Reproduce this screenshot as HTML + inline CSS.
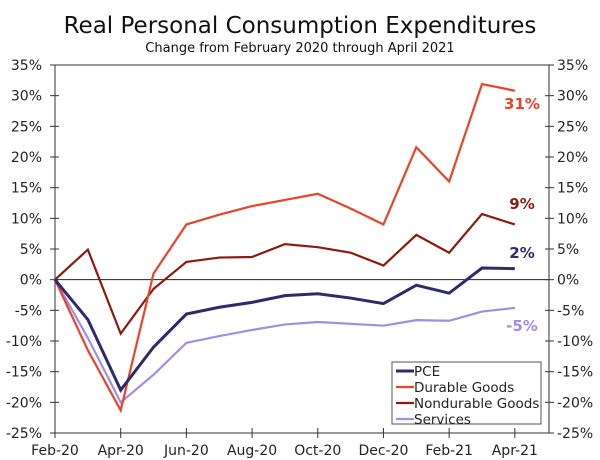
<!DOCTYPE html>
<html><head><meta charset="utf-8"><style>
body{margin:0;background:#fff;}
svg{display:block;font-family:"DejaVu Sans","Liberation Sans",sans-serif;}
</style></head><body>
<svg id="chart" width="600" height="460">
<text x="300" y="33" text-anchor="middle" font-size="23" fill="#111">Real Personal Consumption Expenditures</text>
<text x="300" y="52" text-anchor="middle" font-size="13" fill="#111">Change from February 2020 through April 2021</text>
<g id="axes"></g>
<g id="series"></g>
<g id="legend">
<rect x="392" y="362" width="149" height="62" fill="#fff" stroke="#555" stroke-width="1"/>
</g>
</svg>
<script>
const categories=["Feb-20","Mar-20","Apr-20","May-20","Jun-20","Jul-20","Aug-20","Sep-20","Oct-20","Nov-20","Dec-20","Jan-21","Feb-21","Mar-21","Apr-21"];
const xTickLabels=["Feb-20","Apr-20","Jun-20","Aug-20","Oct-20","Dec-20","Feb-21","Apr-21"];
const yTicks=[35,30,25,20,15,10,5,0,-5,-10,-15,-20,-25];
const pce=[0,-6.5,-18,-11,-5.6,-4.5,-3.7,-2.6,-2.3,-3,-3.9,-0.9,-2.2,1.9,1.8];
const durable=[0,-11.5,-21.3,1,9,10.6,12,13,14,11.6,9,21.6,16,31.9,30.8];
const nondurable=[0,4.9,-8.8,-1.5,2.9,3.6,3.7,5.8,5.3,4.4,2.3,7.3,4.4,10.7,9.0];
const services=[0,-9.5,-20,-15.5,-10.3,-9.2,-8.2,-7.3,-6.9,-7.2,-7.5,-6.6,-6.7,-5.2,-4.6];
const endLabels=["2%","31%","9%","-5%"];

const NS="http://www.w3.org/2000/svg";
const L=55,R=549,T=65,B=433;
const xs=i=>L+i*(R-L)/15.04;
const ys=v=>T+(35-v)*(B-T)/60;
function mk(tag,attrs,parent){const e=document.createElementNS(NS,tag);for(const k in attrs)e.setAttribute(k,attrs[k]);parent.appendChild(e);return e;}
const axes=document.getElementById('axes');
mk('rect',{x:L,y:T,width:R-L,height:B-T,fill:'none',stroke:'#333','stroke-width':1},axes);
const zl=mk('line',{x1:L,x2:R,y1:ys(0),y2:ys(0),stroke:'#222','stroke-width':1},axes);


yTicks.forEach(v=>{
  const y=ys(v);
  mk('line',{x1:L-5,x2:L+4,y1:y,y2:y,stroke:'#333'},axes);
  mk('line',{x1:R-4,x2:R+5,y1:y,y2:y,stroke:'#333'},axes);
  const t1=mk('text',{x:L-13,y:y+5,'text-anchor':'end','font-size':14,fill:'#222'},axes);
  t1.textContent=v+'%';
  
  
  const t2=mk('text',{x:R+8,y:y+5,'font-size':14,fill:'#222'},axes);
  t2.textContent=v+'%';
  
  
});
xTickLabels.forEach(lab=>{
  const i=categories.indexOf(lab);const x=xs(i);
  mk('line',{x1:x,x2:x,y1:B-5,y2:B+5,stroke:'#333'},axes);
  const t=mk('text',{x:x,y:B+22,'text-anchor':'middle','font-size':14,fill:'#222'},axes);
  t.textContent=lab;
  
  
});
const sg=document.getElementById('series');
const defs=[
 {name:'Services',data:services,color:'#9d8fe6',w:2.2,lab:3},
 {name:'Nondurable Goods',data:nondurable,color:'#8b1a10',w:2.2,lab:2},
 {name:'Durable Goods',data:durable,color:'#e8432b',w:2.2,lab:1},
 {name:'PCE',data:pce,color:'#2e2a6e',w:3,lab:0}
];
const labelPos=[[522,258],[522,109],[522,209],[522,331]];
defs.forEach(d=>{
  const p=mk('polyline',{points:d.data.map((v,i)=>xs(i)+','+ys(v)).join(' '),fill:'none',stroke:d.color,'stroke-width':d.w,'stroke-linejoin':'miter'},sg);
  
  
  const pos=labelPos[d.lab];
  const t=mk('text',{x:pos[0],y:pos[1],'text-anchor':'middle','font-size':15,'font-weight':'bold',fill:d.color},sg);
  t.textContent=endLabels[d.lab];
  
  
});
const lg=document.getElementById('legend');
const entries=[['PCE','#2e2a6e',3],['Durable Goods','#e8432b',2.2],['Nondurable Goods','#8b1a10',2.2],['Services','#9d8fe6',2.2]];
entries.forEach((e,k)=>{
  const y=371+k*16;
  mk('line',{x1:396,x2:414,y1:y,y2:y,stroke:e[1],'stroke-width':e[2]},lg);
  const t=mk('text',{x:414,y:y+5,'font-size':13.5,fill:'#222'},lg);
  t.textContent=e[0];
  
  
});
</script>
</body></html>
